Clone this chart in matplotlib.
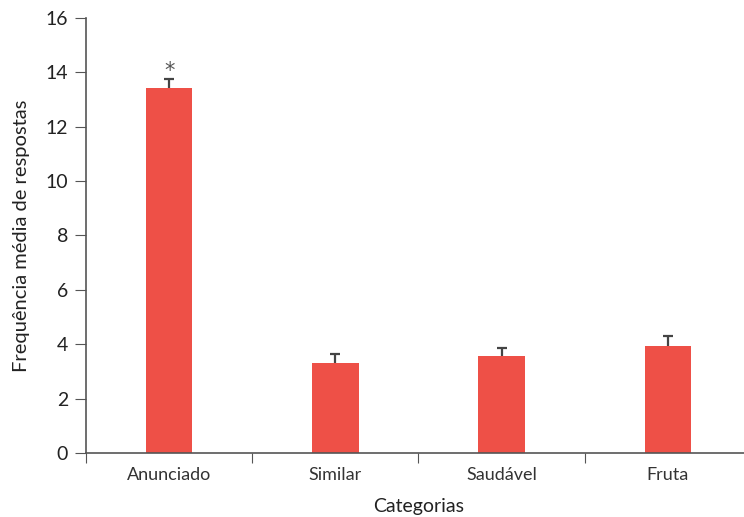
import matplotlib.pyplot as plt
import numpy as np

categories = ["Anunciado", "Similar", "Saudável", "Fruta"]
means = [13.42, 3.31, 3.55, 3.93]
errors = [0.33, 0.33, 0.30, 0.37]
markers = ["*", "", "", ""]

plt.rcParams["font.family"] = ["Lato", "DejaVu Sans"]

fig = plt.figure(figsize=(7.44, 5.17), dpi=100)
ax = fig.add_axes([0.1156, 0.124, 0.8937, 0.841])

x = np.arange(len(categories))
ax.bar(x, means, width=0.28, color="#ee5047", zorder=2)
_, caps, _ = ax.errorbar(x, means, yerr=[np.zeros(len(errors)), errors], fmt="none",
                         ecolor="#444444", elinewidth=1.6, capsize=3.5, capthick=1.6,
                         zorder=1)
caps[0].set_visible(False)
for xi, m, e, s in zip(x, means, errors, markers):
    if s:
        ax.text(xi, m + e - 0.08, s, ha="center", va="bottom", fontsize=15,
                color="#555555", family="DejaVu Sans")

ax.set_xlim(-0.5, 3.5)
ax.set_ylim(0, 16)
ax.set_yticks(range(0, 17, 2))
ax.set_xticks(np.arange(-0.5, 4, 1))
ax.set_xticklabels([])
ax.set_xticks(x, minor=True)
ax.set_xticklabels(categories, minor=True)
ax.tick_params(axis="x", which="minor", length=0, pad=10, labelsize=13, labelcolor="#333333")
ax.tick_params(axis="x", which="major", length=7, color="#555555", direction="out")
ax.tick_params(axis="y", length=8, color="#555555", labelsize=14, labelcolor="#222222", pad=5)

for side in ["top", "right"]:
    ax.spines[side].set_visible(False)
for side in ["left", "bottom"]:
    ax.spines[side].set_color("#555555")
    ax.spines[side].set_linewidth(1.2)

ax.set_xlabel("Categorias", fontsize=14, labelpad=11, color="#222222")
ax.set_ylabel("Frequência média de respostas", fontsize=14.5, labelpad=11, color="#222222")

fig.savefig("out.png", dpi=100)
